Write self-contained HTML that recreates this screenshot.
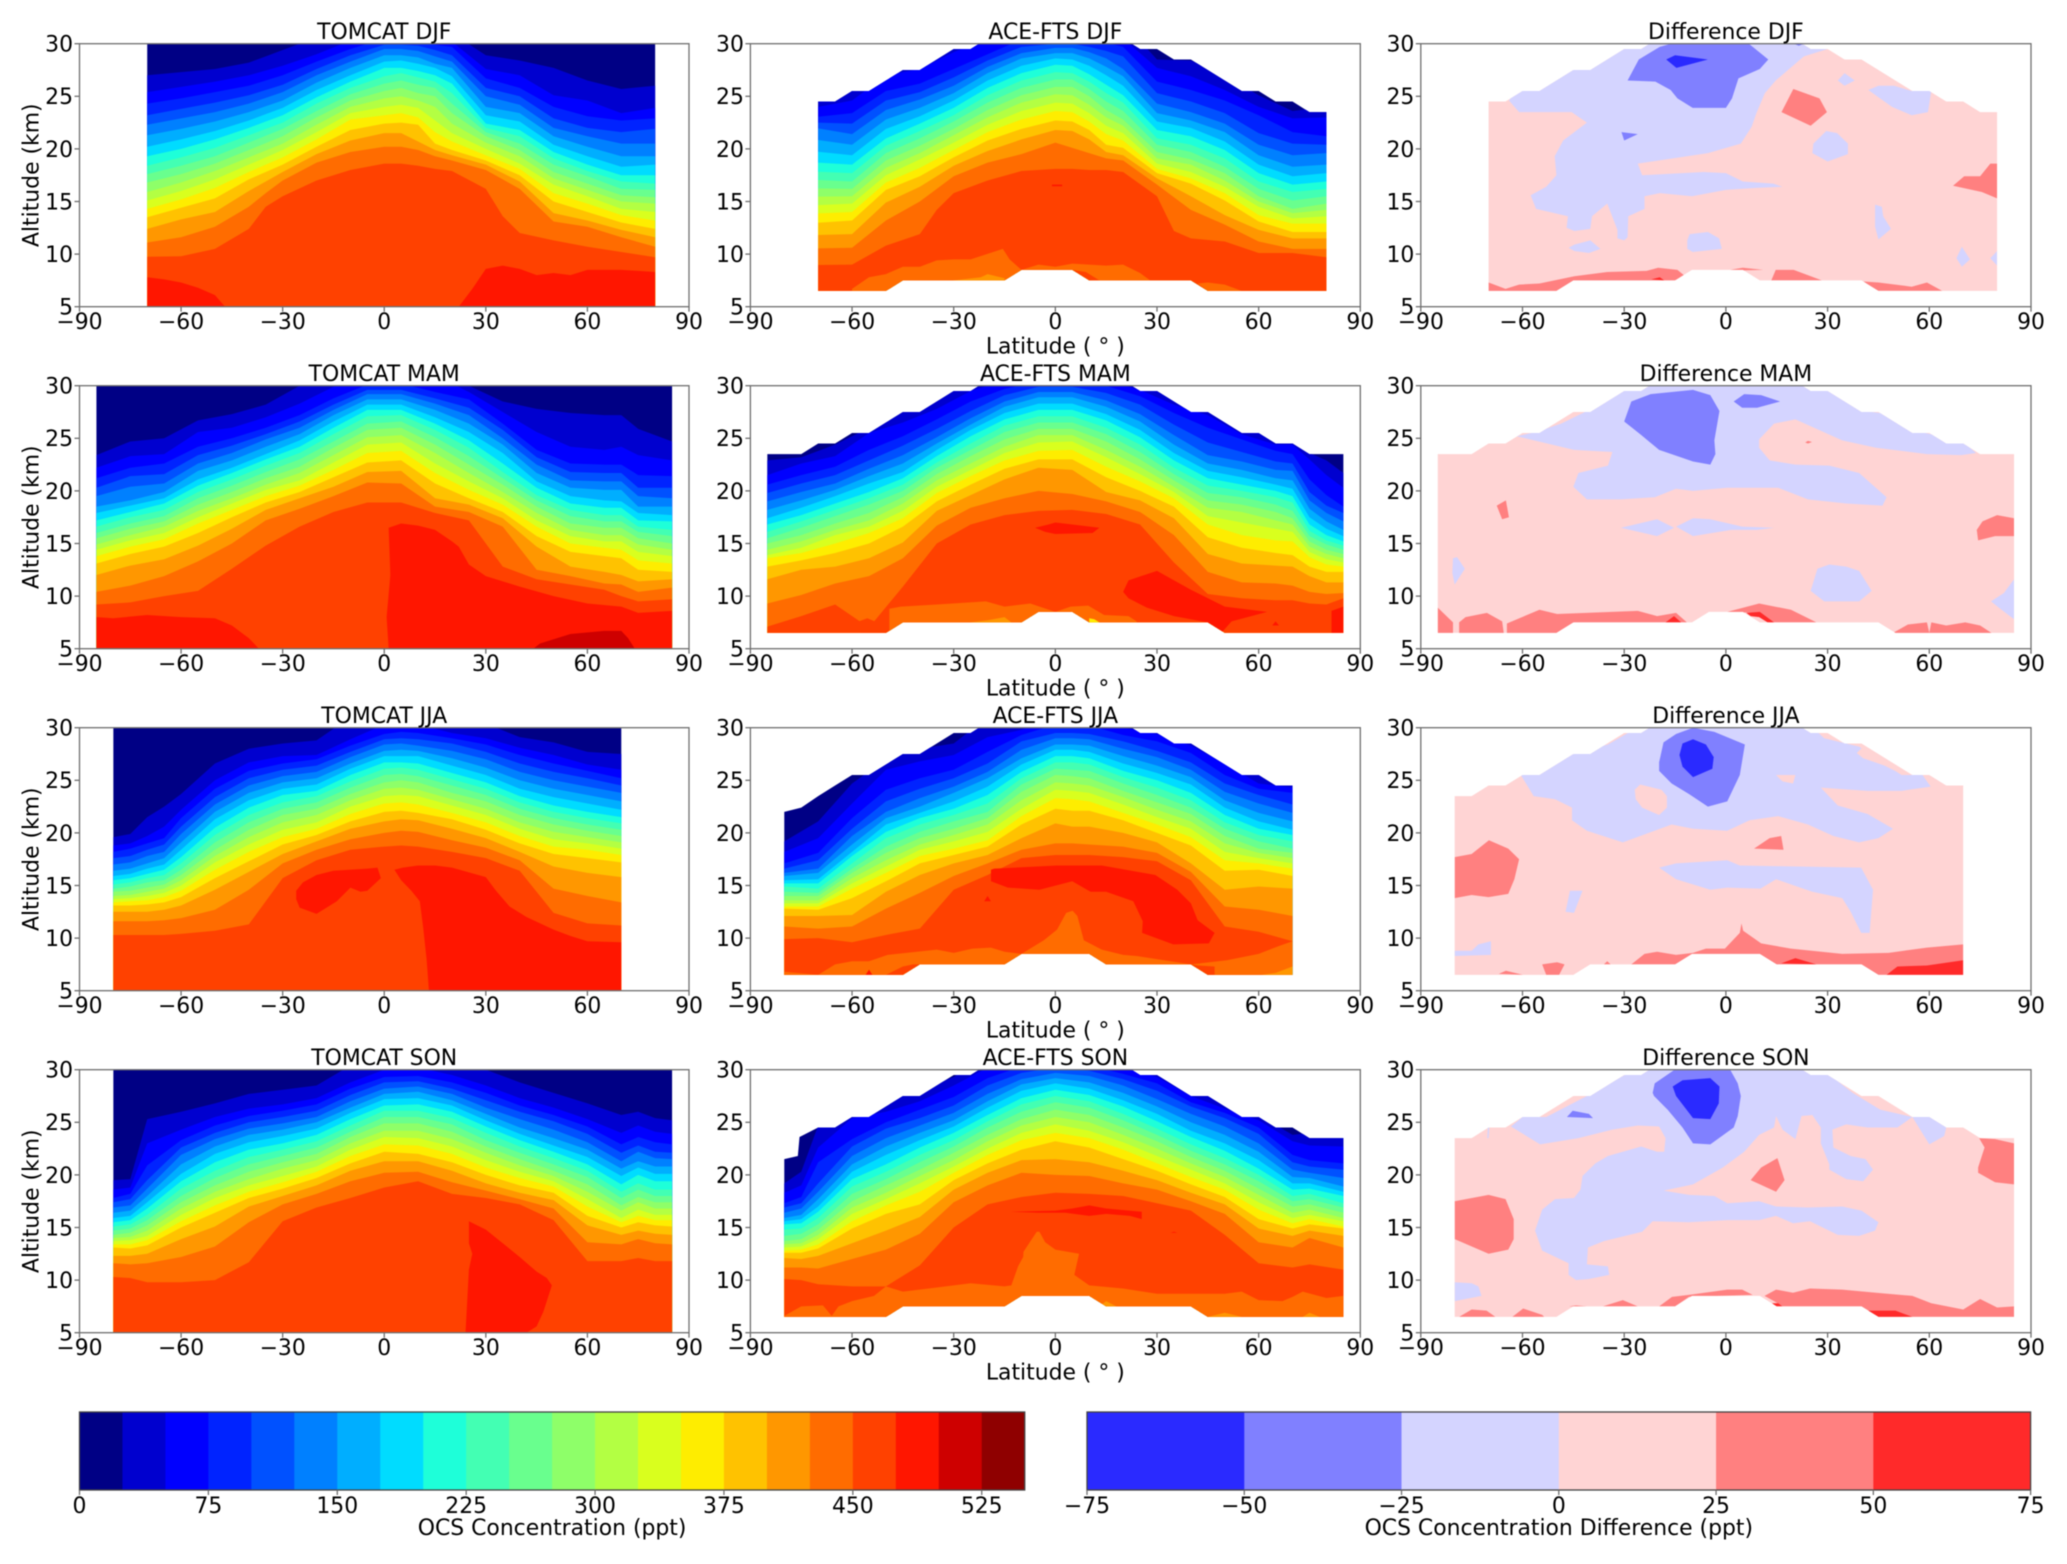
<!DOCTYPE html>
<html lang="en"><head><meta charset="utf-8"><title>OCS concentration: TOMCAT vs ACE-FTS</title>
<style>html,body{margin:0;padding:0;background:#fff}svg{display:block;filter:blur(0.4px)}text{font-family:"DejaVu Sans","Liberation Sans",sans-serif;font-size:21.9px;fill:#000}</style>
</head><body>
<svg id="figure" xmlns="http://www.w3.org/2000/svg" width="2067" height="1564" viewBox="0 0 2067 1564"></svg>
<script>
const concPalette=['#000085','#0000cf','#0000ff','#0023ff','#0051ff','#0080ff','#00aeff','#00dcff','#1effd9','#43ffb3','#69ff8e','#8eff69','#b3ff43','#d9ff1e','#feed00','#ffc200','#ff9700','#ff6c00','#ff4100','#ff1600','#ce0000','#8f0000'];
const diffPalette=['#2a2aff','#8080ff','#d4d4ff','#ffd4d4','#ff8080','#ff2a2a'];
const latTicks=[-90,-60,-30,0,30,60,90];
const altTicks=[5,10,15,20,25,30];
const concTicks=[0,75,150,225,300,375,450,525];
const diffTicks=[-75,-50,-25,0,25,50,75];
const concBounds=[0,25,50,75,100,125,150,175,200,225,250,275,300,325,350,375,400,425,450,475,500,525,550];
const diffBounds=[-75,-50,-25,0,25,50,75];

const djfEnvLat=[-70,-65,-60,-55,-50,-45,-40,-35,-30,-25,-20,-15,-10,-5,0,5,10,15,20,25,30,35,40,45,50,55,60,65,70,75,80];
const djfEnvTop=[24.5,24.5,25.5,25.5,26.5,27.5,27.5,28.5,29.5,29.5,30.5,30.5,30.5,30.5,30.5,30.5,30.5,30.5,30.5,29.5,29.5,28.5,28.5,27.5,26.5,25.5,25.5,24.5,24.5,23.5,23.5];
const djfEnvBot=[6.5,6.5,6.5,6.5,6.5,7.5,7.5,7.5,7.5,7.5,7.5,7.5,8.5,8.5,8.5,8.5,7.5,7.5,7.5,7.5,7.5,7.5,7.5,6.5,6.5,6.5,6.5,6.5,6.5,6.5,6.5];
const mamEnvLat=[-85,-80,-75,-70,-65,-60,-55,-50,-45,-40,-35,-30,-25,-20,-15,-10,-5,0,5,10,15,20,25,30,35,40,45,50,55,60,65,70,75,80,85];
const mamEnvTop=[23.5,23.5,23.5,24.5,24.5,25.5,25.5,26.5,27.5,27.5,28.5,29.5,29.5,30.5,30.5,30.5,30.5,30.5,30.5,30.5,30.5,30.5,29.5,29.5,28.5,27.5,27.5,26.5,25.5,25.5,24.5,24.5,23.5,23.5,23.5];
const mamEnvBot=[6.5,6.5,6.5,6.5,6.5,6.5,6.5,6.5,7.5,7.5,7.5,7.5,7.5,7.5,7.5,7.5,8.5,8.5,8.5,7.5,7.5,7.5,7.5,7.5,7.5,7.5,7.5,6.5,6.5,6.5,6.5,6.5,6.5,6.5,6.5];
const jjaEnvLat=[-80,-75,-70,-65,-60,-55,-50,-45,-40,-35,-30,-25,-20,-15,-10,-5,0,5,10,15,20,25,30,35,40,45,50,55,60,65,70];
const jjaEnvTop=[22,22.4,23.5,24.5,25.5,25.5,26.5,27.5,27.5,28.5,29.5,29.5,30.5,30.5,30.5,30.5,30.5,30.5,30.5,30.5,30.5,29.5,29.5,28.5,28.5,27.5,26.5,25.5,25.5,24.5,24.5];
const jjaDiffEnvTop=[23.5,23.5,24.5,24.5,25.5,25.5,26.5,27.5,27.5,28.5,29.5,29.5,30.5,30.5,30.5,30.5,30.5,30.5,30.5,30.5,30.5,29.5,29.5,28.5,28.5,27.5,26.5,25.5,25.5,24.5,24.5];
const jjaEnvBot=[6.5,6.5,6.5,6.5,6.5,6.5,6.5,6.5,7.5,7.5,7.5,7.5,7.5,7.5,8.5,8.5,8.5,8.5,8.5,7.5,7.5,7.5,7.5,7.5,7.5,6.5,6.5,6.5,6.5,6.5,6.5];
const sonEnvLat=[-80,-76,-75.5,-70,-65,-60,-55,-50,-45,-40,-35,-30,-25,-20,-15,-10,-5,0,5,10,15,20,25,30,35,40,45,50,55,60,65,70,75,80,85];
const sonEnvTop=[21.5,21.8,23.6,24.5,24.5,25.5,25.5,26.5,27.5,27.5,28.5,29.5,29.5,30.5,30.5,30.5,30.5,30.5,30.5,30.5,30.5,30.5,29.5,29.5,28.5,27.5,27.5,26.5,25.5,25.5,24.5,24.5,23.5,23.5,23.5];
const sonEnvBot=[6.5,6.5,6.5,6.5,6.5,6.5,6.5,6.5,7.5,7.5,7.5,7.5,7.5,7.5,7.5,8.5,8.5,8.5,8.5,8.5,7.5,7.5,7.5,7.5,7.5,7.5,6.5,6.5,6.5,6.5,6.5,6.5,6.5,6.5,6.5];
const sonDiffEnvLat=[-80,-75,-70,-65,-60,-55,-50,-45,-40,-35,-30,-25,-20,-15,-10,-5,0,5,10,15,20,25,30,35,40,45,50,55,60,65,70,75,80,85];
const sonDiffEnvTop=[23.5,23.5,24.5,24.5,25.5,25.5,26.5,27.5,27.5,28.5,29.5,29.5,30.5,30.5,30.5,30.5,30.5,30.5,30.5,30.5,30.5,29.5,29.5,28.5,27.5,27.5,26.5,25.5,25.5,24.5,24.5,23.5,23.5,23.5];
const sonDiffEnvBot=[6.5,6.5,6.5,6.5,6.5,6.5,6.5,7.5,7.5,7.5,7.5,7.5,7.5,7.5,8.5,8.5,8.5,8.5,8.5,7.5,7.5,7.5,7.5,7.5,7.5,6.5,6.5,6.5,6.5,6.5,6.5,6.5,6.5,6.5];

// Each profile row: altitude (km) of the 25,50,...,450 ppt contours at that latitude
const tomcatDjfLat=[-70,-60,-50,-40,-35,-30,-20,-10,0,5,10,15,20,30,35,40,50,60,70,80];
const tomcatDjfProfiles=[
[27,25.4,24.3,23.2,22.3,21.3,20.2,19.3,18.4,17.6,16.8,15.9,15.1,14.3,13.5,12.4,11.1,9.75],
[27.3,25.9,24.8,23.8,22.9,21.9,20.9,20,19.2,18.4,17.6,16.8,16,15.2,14.4,13.3,11.6,9.8],
[27.6,26.4,25.4,24.4,23.5,22.6,21.7,20.9,20.1,19.3,18.6,17.9,17.1,16.3,15.3,14,12.6,10.5],
[28.2,27,26,25.1,24.3,23.5,22.7,22,21.3,20.6,19.9,19.2,18.5,17.8,17.1,16,14.5,12.4],
[28.8,27.45,26.5,25.6,24.85,24.05,23.3,22.6,21.9,21.25,20.55,19.85,19.2,18.5,17.8,16.9,15.8,14.5],
[29.4,27.9,27,26.1,25.4,24.6,23.9,23.2,22.5,21.9,21.2,20.5,19.9,19.2,18.5,17.8,17,15.5],
[30.6,29,28.3,27.6,27,26.3,25.6,24.9,24.3,23.6,23,22.3,21.6,20.9,20.2,19.5,18.7,17],
[31.2,30.3,29.5,28.9,28.3,27.7,27,26.4,25.8,25.2,24.6,24,23.4,22.8,21.8,20.8,19.7,18],
[32,31,30.5,29.9,29.5,28.9,28.3,27.7,26.9,26.2,25.5,24.8,24,23.2,22.4,21.5,20.2,18.6],
[32,31,30.4,29.9,29.5,28.9,28.4,27.7,27.2,26.5,25.8,25,24.2,23.4,22.5,21.5,20.2,18.6],
[32,31,30.2,29.8,29.3,28.7,28.1,27.4,26.8,26.1,25.3,24.6,23.9,23,22.3,20.7,19.9,18.4],
[32,30.8,29.9,29.4,28.8,28.1,27.7,27,26.4,25.8,25,24,22.7,21.6,20.5,19.9,19.3,18.1],
[31,30.2,29.7,28.9,28.3,27.7,26.9,26.2,25.3,24.3,23.4,22.4,21.5,20.7,19.9,19.4,18.9,17.9],
[28.9,27.6,26.7,25.8,25,24,23.2,22.4,22,21.6,21.2,20.6,20,19.4,18.9,18.5,18,16.2],
[28.65,27.3,26.25,25.4,24.6,23.7,22.9,22.1,21.6,21.05,20.55,19.95,19.3,18.75,18.2,17.7,17.1,13.6],
[28.4,27,25.8,25,24.2,23.4,22.6,21.8,21.2,20.5,19.9,19.3,18.6,18.1,17.5,16.9,16.2,12],
[27.7,25.1,24,22.9,22,21.2,20.4,19.7,19.1,18.5,17.8,17.2,16.6,15.8,15,13.9,13.1,11.3],
[26.5,24.6,23.1,22,21.2,20.2,19.3,18.5,17.9,17.4,16.7,16.1,15.5,14.8,14,13.2,12.6,10.7],
[25.7,23.4,22.7,21.6,20.5,19.3,18.3,17.5,16.9,16.2,15.6,15,14.3,13.7,13,12.3,11.6,10.2],
[26,23.9,22.9,21.9,20.5,19.3,18.5,17.5,16.7,16.1,15.4,14.8,14,13.2,12.4,11.6,10.7,9.7]];
const tomcatDjfPatches=[
[475,[-70,-65,-60,-55,-50,-47,-70],[7.8,7.6,7.3,6.8,6.1,5,5]],
[475,[22,26,30,35,40,45,50,55,60,70,75,80,80],[5,6.7,8.6,8.9,8.6,8,8.2,8,8.5,8.5,8.4,8.3,5]]];

const aceDjfLat=[-70,-60,-50,-40,-35,-30,-20,-10,0,5,10,15,20,30,35,40,50,60,70,80];
const aceDjfProfiles=[
[31,24,23.06,22.5,21.95,20.84,19.73,18.69,17.83,17.04,16.25,15.46,14.66,13.87,12.98,11.81,10.54,8.96],
[31,24.6,23.4,22.4,21.4,20.4,19.4,18.5,17.7,16.9,16.2,15.5,14.8,14,13.2,11.9,10.6,9],
[31,27,25.5,24.6,23.7,22.8,21.9,21,20.3,19.6,18.9,18.2,17.5,16.8,16.1,14.9,13.2,10.8],
[31,27.6,26.2,25.4,24.7,23.9,23.1,22.4,21.7,21,20.3,19.6,19,18.2,17.4,16.4,15,11.9],
[31,28.4,26.9,26.1,25.35,24.6,23.85,23.15,22.45,21.8,21.1,20.45,19.8,19.05,18.3,17.4,16.2,14.2],
[31,29.2,27.6,26.8,26,25.3,24.6,23.9,23.2,22.6,21.9,21.3,20.6,19.9,19.2,18.4,17.4,15.8],
[33,30.5,29,28.4,27.8,27.2,26.5,25.8,25.1,24.4,23.7,23,22.3,21.6,20.8,19.8,18.7,17],
[33,31.5,30.4,29.7,29.1,28.6,27.9,27.2,26.5,25.8,25.1,24.4,23.6,22.8,21.9,20.9,19.5,17.9],
[34,32,30.5,30,29.6,29.1,28.6,28,27.3,26.6,25.9,25.2,24.4,23.6,22.7,21.8,20.6,18.1],
[34,32,30.5,30,29.6,29.1,28.5,27.9,27.2,26.6,25.9,25.1,24.3,23.5,22.6,21.7,20.1,18.1],
[33,31.5,30.2,29.7,29.2,28.6,27.9,27.1,26.4,25.7,25,24.2,23.4,22.6,21.8,20.9,19.6,18],
[33,31,30.1,29.3,28.6,27.8,27,26.1,25.3,24.5,23.7,23,22.2,21.4,20.4,19.7,19.1,18],
[32,30.5,29.7,28.8,27.6,26.9,26,25.1,24.4,23.6,22.8,22.2,21.5,20.8,20.1,19.4,18.9,17.8],
[28.5,27.7,26.4,25.3,24.3,23.4,22.6,21.8,21,20.4,19.7,19.1,18.6,18.1,17.7,17.2,16.6,15.5],
[28.45,27.3,26,24.9,23.9,23.05,22.3,21.5,20.7,20.05,19.35,18.8,18.2,17.65,17.2,16.35,15.4,12.2],
[28.4,26.9,25.6,24.5,23.5,22.7,22,21.2,20.4,19.7,19,18.5,17.8,17.2,16.7,15.5,14.2,11.5],
[27,25.6,24.6,23.4,22.4,21.6,20.7,19.9,19.1,18.3,17.7,17,16.4,15.8,15.1,13.7,12.8,11.2],
[25.1,24,23.2,21.5,20.4,19.4,18.5,17.7,16.9,16.2,15.5,15,14.5,13.7,13.1,12.3,11.2,10.1],
[23.6,22.9,21.6,20.5,19.4,18.3,17.4,16.6,15.9,15.1,14.3,13.9,13.4,12.9,12.1,11.5,10.5,10.1],
[24,23,21.2,20.4,19.6,18.5,17.7,16.9,16.2,15.5,14.8,14.2,13.6,12.9,12.1,11.5,10.5,9.7]];
const aceDjfPatches=[
[475,[-1,2,2,-1],[16.45,16.45,16.6,16.6]],
[425,[-60,-55,-50,-45,-40,-35,-30,-25,-15.5,-13.5,-10,-10,-60],[6.7,7.8,8.1,8.8,8.8,9.4,9.5,9.5,10.5,9.5,8.5,6,6]],
[400,[-30,-22,-20,-15,-15,-30],[7.5,7.8,8.1,7.7,7.4,7.4]],
[425,[-10,-5,0,5,10,15,20,25,28,13,9,5],[8.5,9,8.8,9.1,9,8.9,9,8.2,7.5,7.5,8.3,8.5]],
[425,[42,45,50,55,45],[7.2,7.3,7.1,6.5,6.5]]];

const tomcatMamLat=[-85,-75,-65,-55,-45,-35,-25,-15,-5,5,15,25,35,45,55,65,70,75,85];
const tomcatMamProfiles=[
[23.4,22.2,21.2,20.3,19.5,18.5,17.9,17.2,16.6,16,15.5,14.9,14.4,13.8,13.1,12,10.4,9.2],
[24.7,23.3,22.2,21.4,20.4,19.1,18.6,18,17.5,16.9,16.4,15.8,15.3,14.7,14,12.9,11,9.4],
[25,23.5,22.6,21.6,20.7,19.9,19.3,18.8,18.2,17.6,17.1,16.6,16,15.4,14.7,13.5,11.9,10],
[26.7,25.6,24.2,23.4,22.6,21.9,21.1,20.5,19.9,19.3,18.7,18.1,17.5,16.9,16,14.8,13.3,10.5],
[27.3,26,25,24.3,23.6,22.9,22.2,21.7,21.1,20.5,19.9,19.3,18.8,18.2,17.5,16.4,15,12.6],
[28.2,27,26,25.4,24.9,24.2,23.5,23,22.4,21.8,21.2,20.6,20.1,19.5,18.9,18.2,17.2,14.8],
[30,28.3,27.2,26.6,26,25.4,24.8,24.2,23.6,23,22.3,21.7,21,20.5,19.9,19.3,18.3,16.6],
[31,29.9,28.8,28.2,27.7,27.2,26.6,26,25.4,24.7,24.1,23.4,22.7,22,21.3,20.4,19.5,18],
[33,31,30.1,29.6,29.2,28.7,28.2,27.7,27.1,26.4,25.8,25.1,24.4,23.6,22.7,21.8,20.8,18.9],
[33,31,30.2,29.6,29.2,28.7,28.2,27.7,27.2,26.6,26,25.3,24.6,23.8,22.9,21.9,20.7,18.9],
[32,31,29.4,28.8,28.3,27.7,27,26.4,25.8,25.1,24.4,23.6,22.6,21.7,20.7,19.3,18.5,17.9],
[30,29.4,28.7,27.9,27.2,26.4,25.6,24.8,24.1,23.3,22.5,21.7,20.9,20.1,19.3,18.7,18,17.2],
[28.5,27.5,26.4,25.8,25,24.4,23.6,22.6,21.8,21.2,20.6,19.9,19.3,18.7,18,17.4,16.6,12.8],
[27.8,25.6,23.9,23.2,22.5,21.7,20.9,20.3,19.6,19.1,18.5,17.9,17.2,16.6,15.7,14.7,12.5,11.6],
[27.4,24.2,22.6,21.8,21,20.3,19.5,18.8,18.2,17.6,16.9,16.3,15.7,15,14.2,12.8,11.9,11.1],
[27.2,23.9,22.5,21.7,20.9,20.1,19.1,18.4,17.7,17.1,16.5,15.8,15.2,14.6,13.8,12.3,11.2,10.6],
[27.2,24.2,22.5,21.7,20.9,20.1,19,18.4,17.7,17.1,16.5,15.8,15.2,14.4,13.6,12,11.1,10],
[25.9,23.4,21.5,20.3,19.5,18.5,17.9,17.2,16.6,16.1,15.5,14.9,14.2,13.4,12.5,11.4,10.4,9.5],
[24.7,22.9,21.4,20.3,19.3,18.5,17.7,17.1,16.3,15.7,15,14.4,13.8,13.1,12.3,11.6,10.8,9.7]];
const tomcatMamPatches=[
[475,[-85,-80,-70,-60,-50,-45,-40,-37,-85],[8,7.9,8.2,8,7.9,7.2,6,5,5]],
[475,[1.3,0.7,1.8,1.3,5,10,15,20,22,25,30,40,50,60,70,75,85,85],[5,8,12,16.5,16.9,16.7,16.3,15.2,14.7,13,11.9,10.9,10,9.3,9,8.4,8.6,5]],
[500,[44,46,55,65,70,72,74],[5,5.5,6.4,6.7,6.7,6,5]]];

const aceMamLat=[-85,-75,-65,-55,-45,-35,-25,-15,-5,5,15,25,35,45,55,65,70,75,80,85];
const aceMamProfiles=[
[22.9,21.5,20.6,19.8,19,18.2,17.4,16.8,16.1,15.5,15,14.4,13.9,13.6,12.8,11.6,9.3,7.1],
[23.2,22.6,21.5,20.7,19.9,19.1,18.4,17.7,17.1,16.5,15.8,15.2,14.6,14.1,13.4,12.5,10.1,8.1],
[24.4,23.3,22.3,21.5,20.7,20.1,19.5,18.8,18.2,17.6,16.9,16.3,15.8,15,14.1,12.8,11.2,9.2],
[26,25.5,23.9,22.9,22.1,21.4,20.7,19.9,19.3,18.7,17.9,17.2,16.6,16,15,13.6,11.9,7],
[27.6,26.5,25.2,24.3,23.4,22.6,21.8,21.2,20.6,20,19.4,18.8,18.1,17.4,16.6,15.1,13.6,10.9],
[29,27.8,26.8,25.9,25.1,24.5,23.9,23.3,22.7,22.2,21.6,21,20.4,19.8,19,18.1,16.7,15],
[30.5,29.5,28.5,27.6,26.9,26.3,25.8,25.2,24.5,23.9,23.3,22.6,22,21.4,20.6,19.6,18.4,16.8],
[32,30.5,29.7,29.1,28.5,28,27.4,26.8,26.2,25.6,24.9,24.2,23.6,22.9,22.1,21.1,19.3,17.7],
[33,31,30.4,29.9,29.4,28.9,28.3,27.7,27.1,26.5,25.9,25.3,24.6,23.8,23,22.2,20,18.1],
[33,31,30.4,29.9,29.4,28.9,28.3,27.7,27.1,26.5,25.9,25.3,24.7,23.9,23,22,19.7,18.2],
[32,30.5,30,29.3,28.6,28,27.3,26.7,26,25.4,24.7,23.9,23.2,22.3,21.3,19.9,19,17.8],
[31,29.6,29,28.2,27.3,26.6,25.8,25.1,24.4,23.7,23,22.3,21.6,20.9,20,19.1,18,16.8],
[30,28.2,27.4,26.3,25.3,24.4,23.6,22.9,22.2,21.6,21,20.4,19.9,19.3,18.5,17.4,15.8,13.2],
[28.5,27.2,26,24.6,23.4,22.6,21.9,21.2,20.5,19.8,19.1,18.4,17.6,16.8,15.6,14,12.3,10.2],
[26,25.4,24.9,23.7,22.8,22,21.3,20.6,20,19.4,18.7,18,17,15.8,14.6,13.1,11.3,9.8],
[25,24.4,23.8,22.8,22,21.2,20.6,20,19.4,18.7,18,17.2,16.4,15.3,14.1,12.9,11.2,9.6],
[25,24.4,23.5,22.6,21.9,21,20.2,19.5,18.9,18.1,17.4,16.8,16.1,15.2,13.9,12.8,11,9.6],
[23.6,23,21.1,19.9,19.1,18.3,17.5,16.8,16.2,15.7,15.2,14.7,14.2,13.7,12.8,11.9,10.4,9.3],
[22.9,21.5,19.6,18.6,17.9,17.1,16.4,15.8,15.3,14.9,14.4,14,13.5,13,12.3,11.3,10.2,9.2],
[21.7,20.3,18.5,17.9,17.1,16.3,15.7,15.2,14.8,14.4,14,13.6,13.2,12.8,12.3,11.3,10.3,9.8]];
const aceMamPatches=[
[475,[-6,-2,0,5,13,11,0,-3],[16.5,16.8,17,16.8,16.5,16,15.9,16.1]],
[475,[20,21.6,30,40,50,62.5,52,49,45,35,27,21.6],[10.4,11.5,12.4,10.6,9,8.5,7.6,6.5,7.5,8.1,8.9,9.8]],
[475,[81.5,85,85,81.5],[8.6,9,6.5,6.5]],
[425,[-49,-45.6,-35,-20.5,-15,-7.4,0,4.5,9.7,14.4,21.6,24,24,-49],[8.8,9,9.2,9.5,9,9.3,8.5,9,9.1,8.2,8.1,7.6,6,6]],
[450,[-58,-55.5,-49.5,-49.8,-57.4],[7.6,7.9,7.1,6.5,6.5]],
[400,[-25,-20,-15,-13,-13,-25],[7.5,7.7,8,7.5,7.4,7.4]],
[350,[10,11.5,13,13,10],[7.9,7.8,7.5,7.4,7.4]],
[475,[65,66,64],[7.6,7.2,7.2]]];

const tomcatJjaLat=[-80,-75,-70,-65,-60,-50,-40,-30,-20,-10,0,5,10,20,30,40,50,60,70];
const tomcatJjaProfiles=[
[19.6,18.8,18.2,17.6,17,16.4,15.9,15.5,15.1,14.7,14.4,14,13.7,13.4,13.1,12.5,11.6,10.3],
[19.9,19,18.5,17.8,17.2,16.6,16.1,15.7,15.3,14.9,14.5,14.1,13.8,13.5,13.1,12.5,11.6,10.3],
[21.5,19.7,19,18.4,17.8,17.1,16.6,16.1,15.7,15.3,14.8,14.4,14,13.6,13.2,12.5,11.6,10.3],
[22.5,20.6,19.5,18.9,18.2,17.6,17,16.5,16,15.5,15.1,14.7,14.3,13.9,13.4,12.7,11.7,10.3],
[23.7,22.2,21.4,20.6,19.9,19.1,18.4,17.7,17.1,16.5,16,15.5,15,14.5,13.9,13.1,11.9,10.4],
[26.6,25,24.2,23.4,22.7,22,21.3,20.5,19.8,19.1,18.4,17.8,17.2,16.5,15.7,14.6,12.7,10.7],
[28,26.7,25.9,25.2,24.5,23.8,23.1,22.4,21.7,21,20.3,19.6,18.9,18.2,17.3,16.3,14.6,11.3],
[28.5,27.3,26.6,26,25.4,24.8,24.2,23.6,22.9,22.3,21.7,21,20.3,19.6,18.9,18,17.1,15.7],
[28.8,27.4,27,26.4,25.8,25.2,24.6,24,23.5,22.9,22.3,21.7,21,20.4,19.8,19.2,18.4,17.4],
[31,28.9,28.3,27.7,27.2,26.6,26.1,25.5,24.9,24.3,23.7,23.1,22.5,21.8,21.1,20.4,19.4,18.4],
[32,30.3,29.4,28.9,28.4,27.8,27.3,26.7,26.1,25.5,24.8,24.2,23.5,22.8,22,21.1,20,18.7],
[32,30.4,29.6,29,28.5,27.9,27.3,26.7,26.2,25.6,25,24.3,23.6,22.9,22.1,21.3,20.2,18.8],
[32,30.3,29.5,28.9,28.3,27.8,27.3,26.6,26,25.4,24.8,24.1,23.5,22.7,21.9,21.2,20.1,18.7],
[31.2,29.5,29,28.5,27.8,27.1,26.4,25.7,25.1,24.5,23.8,23.2,22.6,21.9,21.3,20.4,19.3,18.2],
[30.4,29,28.4,27.7,27,26.2,25.5,24.8,24.2,23.6,23,22.3,21.7,21,20.3,19.5,18.6,17.6],
[29.1,28.1,27.4,26.6,25.8,25,24.2,23.5,22.9,22.3,21.7,21,20.4,19.7,19,18.2,17.4,16.4],
[28.6,27.4,26.6,25.8,25,24.2,23.4,22.6,22,21.4,20.8,20.1,19.4,18.7,18,16.8,14.7,12.4],
[27.7,26.5,25.9,25.2,24.4,23.6,22.8,22,21.4,20.8,20.2,19.6,19,18.4,17.6,16.2,14,11.4],
[27.5,26,25.2,24.5,23.8,23,22.2,21.5,20.9,20.3,19.7,19.1,18.5,17.9,17.2,15.8,13.4,11.2]];
const tomcatJjaPatches=[
[475,[13.2,12.5,11.5,10.5,8,5,3,5.5,10,15,20,30,33,37,42,50,55,60,70,70],[5,8,11,13.5,14.5,15.5,16.5,16.7,16.9,16.9,16.7,15.8,14.5,13,12,10.8,10.2,9.7,9.6,5]],
[475,[-26,-24,-20,-15,-5,-2,-1,-5,-7,-10,-14,-20,-25,-26],[14.5,15.3,16,16.4,16.6,16.7,15.7,14.5,14.4,14.8,13.5,12.3,12.9,13.7]]];

const aceJjaLat=[-80,-70,-60,-50,-40,-30,-20,-10,0,5,10,20,30,40,50,60,70];
const aceJjaProfiles=[
[19.2,18.2,17.1,16.6,16.2,15.9,15.5,15.2,14.9,14.4,14,13.6,13.3,13,12.8,12.1,11.1,9.9],
[21.1,19.5,18.1,17.4,16.6,16.2,15.6,15.2,14.7,14.3,14,13.6,13.3,13,12.7,12.1,10.9,10],
[24.7,22.8,21.4,20.4,19.7,18.9,18.2,17.8,17.1,16.6,16.2,15.7,15.2,14.7,13.8,12.2,11.1,9.6],
[27,26,24.1,23,22,21.4,20.8,20.1,19.5,18.7,18.1,17.4,16.8,16.2,15.4,14.4,12.8,10.3],
[28,26.8,25.2,24.2,23.3,22.5,21.9,21.4,20.8,20.1,19.5,18.9,18.4,17.8,17.1,16,14.3,10.9],
[28.5,27.4,26,25.2,24.4,23.8,23,22.3,21.7,21.1,20.4,19.8,19.2,18.5,17.9,17.1,15.9,14.6],
[31,29.1,27.7,26.6,25.8,25.2,24.4,23.6,22.8,22,21.4,20.8,20.1,19.3,18.7,17.9,17.1,16],
[33,29.8,29.3,28.7,27.9,27.1,26.5,25.8,25.2,24.6,23.9,23.1,22.3,21.6,20.8,19.5,18.4,17.6],
[34,31,30.3,29.5,29,28.4,27.9,27.3,26.7,26.1,25.5,24.8,24.1,23.3,22.3,20.9,19,17.9],
[34,31,30.2,29.5,29,28.4,27.9,27.3,26.7,26,25.4,24.7,24,23.2,22.1,20.6,19,17.9],
[33,31,30.2,29.4,28.9,28.3,27.7,27.1,26.5,25.9,25.2,24.5,23.8,23,22.1,20.6,18.9,17.9],
[32,30,29.3,28.7,28,27.3,26.6,25.9,25.3,24.7,24,23.4,22.7,21.9,21.2,20,18.7,17.7],
[31,29.4,28.7,27.8,27.2,26.4,25.7,25,24.3,23.6,22.9,22.2,21.5,20.8,20,19.1,18.1,17.3],
[29,28.3,27.6,26.7,26,25.3,24.6,23.8,23.1,22.4,21.8,21.1,20.4,19.6,18.8,17.1,16.3,15.5],
[28,26.6,25.5,24.7,23.9,23.1,22.4,21.7,21,20.4,19.7,19,18.2,17.4,16.4,14.6,13,11.1],
[26,24.7,24.2,23.6,22.8,21.9,21.1,20.4,19.8,19.2,18.5,18.1,17.6,17.1,16.5,14.9,12.7,10.6],
[26,24.3,23.8,22.7,21.9,21.1,20.3,19.8,19.2,18.5,18.1,17.6,17.1,16.6,15.9,14.7,12.1,9.7]];
const aceJjaPatches=[
[475,[-19,-18,0.5,13.7,29.5,36,40,42,47,45.3,34.8,25.6,25.8,23,15,10.4,5,-4.7,-14,-19],[16.5,16.6,16.9,16.9,16,14.6,13.3,11.7,10.5,9.5,9.4,10.5,11.6,13.5,14.4,14.4,15.4,14.6,14.8,15.4]],
[475,[-21,-19,-20],[13.5,13.5,14]],
[425,[-80,-70,-65,-60,-55,-49.5,-35,-30,-24.5,-19,-15,-10,-3.4,0.5,3.2,5.1,6.5,8.4,13.7,20,24,40,50.6,60,66.4,70,70,-80],[6.8,6.5,7.5,7.8,7.8,8.4,8.9,8.6,9,9.1,8.7,8.5,9.8,10.8,12.4,12.6,12.1,9.8,8.9,8.4,8.3,7.5,7.9,8.5,9.3,9.7,5,5]],
[450,[-50,-45,-42,-40,-45],[6.5,7.3,7.5,7.5,6.5]],
[450,[40,45,47,47,42],[7.5,6.5,6.5,7.3,7.4]],
[400,[61,65,70,70,61],[6.5,6.7,7.3,6,6]],
[475,[-56,-55,-54],[6.5,7,6.5]]];

const tomcatSonLat=[-80,-75,-70,-60,-50,-40,-30,-20,-10,0,10,20,30,40,50,60,70,75,80,85];
const tomcatSonProfiles=[
[19.5,18.6,17.8,17.4,16.9,16.4,15.9,15.5,15.1,14.7,14.3,14,13.7,13.4,13.1,12.3,11.6,10.3],
[19.6,18.8,18.2,17.7,17.1,16.6,16.1,15.7,15.3,14.9,14.5,14.1,13.8,13.4,13,12.3,11.5,10.2],
[25.3,23,20.9,19.5,18.7,18,17.4,16.8,16.2,15.7,15.2,14.7,14.2,13.8,13.3,12.5,11.6,9.8],
[26,24.3,23.3,22.6,21.9,21,20.1,19.4,18.7,18,17.4,16.8,16.2,15.6,15,13.9,12.2,9.8],
[26.8,25.5,24.7,24,23.4,22.7,22,21.2,20.4,19.7,19,18.4,17.8,17.1,16.4,15.1,13.2,10],
[27.7,26.3,25.6,25,24.4,23.8,23.1,22.4,21.7,21,20.3,19.6,19,18.4,17.8,17,15.5,11.7],
[28.1,26.7,26.1,25.5,24.9,24.3,23.7,23,22.4,21.8,21.2,20.6,19.9,19.3,18.7,18,17.2,15.6],
[28.5,27.3,26.7,26.1,25.5,25,24.4,23.8,23.2,22.6,22,21.4,20.8,20.3,19.7,19,18.2,16.9],
[30.4,28.8,28.2,27.6,27,26.4,25.9,25.3,24.7,24.1,23.6,23,22.4,21.8,21.1,20.4,19.4,17.8],
[32,30,29.3,28.8,28.2,27.7,27.2,26.6,26.1,25.5,24.9,24.2,23.6,22.9,22.2,21.3,20.2,18.8],
[32,30.2,29.4,28.9,28.4,27.9,27.3,26.7,26.1,25.5,24.9,24.2,23.5,22.8,22,21.3,20.3,19.4],
[31,29.5,28.8,28.2,27.7,27.1,26.6,26,25.4,24.8,24.1,23.4,22.7,22,21.2,20.4,19.3,18.2],
[30,28.5,27.8,27.1,26.4,25.8,25.2,24.6,24,23.3,22.7,22.1,21.4,20.7,20,19.2,18.5,17.8],
[28.8,27.3,26.6,26,25.3,24.5,23.9,23.3,22.7,22.1,21.5,20.9,20.3,19.7,19,18.3,17.7,17.2],
[27.8,26.4,25.7,25.1,24.3,23.5,22.8,22.2,21.6,21,20.4,19.9,19.4,18.9,18.3,17.6,16.8,15.7],
[26.8,25.3,24.6,23.9,23.1,22.4,21.7,21,20.4,19.8,19.1,18.4,17.7,17,16.1,15.2,13.6,11.8],
[25.7,24,22.9,22.1,21.3,20.6,19.9,19.1,18.4,17.8,17.1,16.6,15.9,15.5,15,14.3,13.4,11.8],
[26,24.7,23.6,22.8,22.2,21.3,20.7,20,19.2,18.6,17.9,17.4,16.7,16.1,15.5,14.7,13.9,12.1],
[25.4,24.1,23.1,22.2,21.6,20.8,20.1,19.4,18.6,18,17.4,16.8,16.2,15.7,15.2,14.4,13.5,11.8],
[25.2,23.9,22.9,22.1,21.5,20.8,20.1,19.4,18.6,18,17.4,16.8,16.2,15.7,15.1,14.3,13.4,11.8]];
const tomcatSonPatches=[
[475,[24,24.5,25,26,25,25,30,35,40,45,48,49.5,47,45,42],[5,8,11,12.5,13.5,15.6,14.8,13.5,12.2,10.8,10.2,9.5,7,5.6,5]]];

const aceSonLat=[-80,-75,-70,-60,-50,-40,-30,-20,-10,0,10,20,30,40,50,60,70,75,85];
const aceSonProfiles=[
[19.2,18.3,17.3,16.9,16.4,15.9,15.6,15.3,14.8,14.2,13.7,13.4,13.1,12.8,12.6,12.1,11.2,10.1],
[20.3,19,17.9,17.3,16.8,16.2,15.8,15.4,14.9,14.4,13.9,13.5,13.2,12.9,12.6,12,11.2,10],
[24.7,22.6,21.2,19.2,18.4,17.7,17,16.5,15.9,15.3,14.8,14.3,13.9,13.4,13,12.3,11.1,9.6],
[26,25.4,23.4,22.7,21.8,21,20.3,19.6,18.9,18.2,17.5,16.9,16.3,15.6,14.9,13.5,12,9.4],
[27,26,25,24.4,23.5,22.7,21.9,21,20.3,19.6,19,18.3,17.7,17.1,16.3,14.7,12.9,9.4],
[28,27,26.2,25.4,24.7,24,23.3,22.6,21.9,21.2,20.5,19.9,19.2,18.4,17.2,16,14.4,11.4],
[29.3,28.5,27.4,26.6,25.9,25.2,24.6,24,23.3,22.7,22.1,21.4,20.8,20.2,19.5,18.6,17.4,15],
[31.5,30.2,29.2,28.5,27.7,27,26.4,25.7,25.1,24.5,23.8,23.2,22.5,21.9,21.1,20.2,19,17.2],
[33,31,30.3,29.7,29.1,28.6,28,27.3,26.7,26,25.3,24.7,24,23.3,22.4,21.4,20.2,17.9],
[34,32,30.7,30.2,29.7,29.2,28.7,28.1,27.5,26.9,26.2,25.5,24.8,24,23.2,21.5,20,18.3],
[33,31.2,30.4,29.9,29.4,28.8,28.2,27.6,27,26.4,25.7,25,24.2,23.5,22.6,21.2,19.9,18.2],
[32,30.3,29.6,29.1,28.5,27.8,27.1,26.5,25.8,25.2,24.5,23.8,23.1,22.4,21.5,20.4,19.2,18],
[31,29.3,28.7,28,27.2,26.5,25.8,25.1,24.4,23.8,23.2,22.5,21.8,21.1,20.4,19.5,18.6,17.3],
[28.5,27.5,26.9,26.5,25.8,25,24.2,23.6,22.9,22.3,21.7,21.1,20.5,19.8,19.1,18.3,17.5,16.6],
[27.7,26.3,25.9,25.4,24.6,23.8,23,22.3,21.6,21,20.4,19.8,19.2,18.6,17.9,17.2,16.3,14.3],
[25.7,25.2,24.5,23.9,23,22.2,21.4,20.6,20,19.4,18.7,18.1,17.4,16.7,15.8,14.9,13.6,11.6],
[23.8,23.2,21.9,21.2,20.5,19.8,19.2,18.6,18,17.5,17,16.4,15.9,15.4,14.9,14.2,13.1,11.2],
[24,22.8,21.4,20.8,20.2,19.7,19.2,18.7,18.2,17.7,17.2,16.7,16.2,15.8,15.3,14.7,14,11.5],
[24,22.7,21.1,20.5,19.7,18.9,18.4,18,17.3,16.9,16.4,15.9,15.6,15.1,14.9,14.2,13.1,11]];
const aceSonPatches=[
[425,[-80,-75,-68.6,-66,-64,-60,-53.5,-50,-45,-35,-25,-15,-13,-11,-9.5,-9.4,-5.5,-4.7,-3,0,7,5.6,10,20,30,40,50,55,60,67,70,73,80,85,85,-80],[6.6,7.5,7.6,6.6,7.5,8,8.5,9.4,8.9,9.3,9.7,9.4,9.5,11.3,12.2,12.7,14.6,14.6,13.6,12.9,12.5,10.5,9.5,9.2,8.7,8.7,8.7,8.9,8.1,8,8.4,8.9,8.3,8.5,5,5]],
[475,[-13,0,5,10,15,25.5,25.5,22,15,10,3,-5],[16.5,16.6,16.8,17.1,16.8,16.5,15.8,16.1,16.3,16.1,16.4,16.4]],
[475,[34,36,35],[14.5,14.5,14.6]],
[400,[13,15,18,15],[7.5,8,7.5,7.4]],
[400,[45,50,55,50],[6.5,6.9,6.5,6.4]],
[400,[73,75,78,74],[6.5,6.9,6.5,6.4]]];

const diffDjfPatches=[
[-25,[-64,-61,-45.5,-41,-48,-50.5,-50,-53,-57.6,-56,-46.6,-47,-44.7,-40,-39.5,-35,-32,-32,-30,-29,-28.8,-24,-24,-19.5,-10,0,9,16.7,14,5,0,-6.6,-24.7,-26,-5.3,4.4,7.6,9,11.5,14.7,23,30,25,20.5,-37.6,-50.5,-63],[24.6,23.5,23.5,22.5,20.8,19.3,17.5,16.4,15.6,14.3,13.6,12.5,12.2,12.4,13.6,14.8,12.3,11.5,11.3,11.6,13.6,14.3,15.5,15.8,15.5,16.1,16.3,16.4,16.7,16.9,17.7,17.8,17.5,18.6,19.6,20.5,22.1,23.4,25.3,26.5,28.8,29.5,29.7,31,31,27.5,25]],
[-50,[-29,-25.7,-19.5,-14,6,12.5,10,3.7,1.8,0,-9.8,-14.3,-16.3,-20.8],[26.5,28.5,29.7,30.2,30.2,28.5,27.6,26.7,24.8,23.9,23.9,24.8,25.6,26.4]],
[-75,[-17.6,-15,-5.3,-14.6],[28.5,28.9,28.5,27.7]],
[-50,[-30.8,-26,-30],[21.6,21.4,20.8]],
[-50,[20,23,21.5],[30,30,29.8]],
[-25,[33,35,38,35],[26.5,27.2,26.5,26]],
[-25,[42,45,49.6,54.8,60.6,59.6,54.8,49],[25.6,26,26,25.5,25.5,23.5,23.2,24]],
[-25,[25.5,25.8,29.6,32.8,36,36,30],[19.6,20.5,21.7,21.5,20.5,19.5,18.8]],
[-25,[44,46,46.4,48.7,45,44],[14.7,14.5,13.6,12.4,11.4,12.6]],
[-25,[68,69.6,72,69.6],[9.6,10.7,9.5,8.8]],
[-25,[78,80,80],[9.6,10.3,8.9]],
[-25,[-46.4,-44.7,-40,-37,-40.4,-44.7],[10.6,10.9,11.3,10.5,10.1,10.3]],
[-25,[-11.4,-10.7,-5.3,-2,-1.2,-9.8,-11.4],[11.3,11.9,12.1,11.5,10.5,10.2,10.5]],
[25,[16.4,19.9,27.6,29.8,25],[23.5,25.7,24.8,23.5,22.2]],
[25,[67,70.3,75,78,80,80,75.5],[16.5,17.4,17.4,18.6,18.6,15.3,15.9]],
[25,[-70,-65,-61,-55,-44.7,-35,-23.4,-20,-14.3,-12.4,-14,-45,-50,-70],[7.3,6.7,7.1,7.2,7.9,8.3,8.4,8.7,8.5,8,7.5,7.4,6.4,6.4]],
[25,[14.7,20,28.3,13.4],[8.5,8.5,7.5,7.5]],
[25,[1.2,5,11,5],[8.5,8.7,8.5,8.45]],
[25,[40.6,44.4,63.8,59.3,54.8,45],[7.4,6.5,6.5,7.3,6.9,7.3]],
[50,[-22,-19.5,-18.2],[7.6,7.8,7.5]]];

const diffMamPatches=[
[-25,[-61.7,-44.8,-33.5,-34.8,-43.5,-45,-41,-31,-21,-14.7,-9.7,0.4,15.4,24.2,35.5,46.2,47.4,39.3,30.5,20.5,12.9,9.8,9.8,14.2,20.5,34.3,44.3,59.3,69.4,73.8,69.4,54.3,45.5,40.5,29,24,-30,-41,-48.6,-56],[25.2,23.9,23.7,22.4,21.7,20.4,19.2,19.2,19.4,20.2,20,20.3,20.3,19.2,18.8,18.6,19.4,21.7,22.4,22.5,22.9,24.1,24.9,26.4,26.8,24.8,24.1,23.5,23.4,23.6,24.8,25.8,27.4,27.6,29.7,30.5,30.5,27.6,26.4,25.6]],
[-50,[-30,-27.9,-22.2,-9.7,-4.6,-1.9,-3.4,-3.1,-4.6,-9.7,-19.7,-25.3],[26.6,28.5,29.2,29.6,29.1,27.6,24.8,23.5,22.5,22.8,23.9,25.4]],
[-50,[2.3,5.4,10.4,16,9.2,4.8],[28.5,29.2,29.1,28.5,27.9,27.9]],
[-25,[-31,-20.3,-15.3,-20.3],[16.5,17.3,16.5,15.7]],
[-25,[-14.7,-9.7,-4.6,4.8,14.2,9.2,1.6,-9.7],[16.6,17.4,17.3,16.6,16.5,16.3,16.3,15.7]],
[-25,[-80.5,-79.3,-77,-80,-80.7],[13.6,13.7,12.6,11.1,12.2]],
[-25,[25,27,30.5,35.5,39.3,43,39.3,29],[10.5,12.6,13,12.8,12.4,10.5,9.5,9.5]],
[-25,[78.2,82,85,85,81.3],[9.5,10.3,11.6,7.8,8.7]],
[25,[-67.6,-64.9,-64,-66],[18.6,19.1,17.5,17.3]],
[25,[74,75.7,80,85,85,79.4,74.4],[16.3,17.1,17.7,17.4,15.7,15.7,15.3]],
[25,[23.4,24.2,25.4,24.2],[24.6,24.75,24.65,24.5]],
[25,[-85,-80.5,-80.5,-85],[8.9,7.5,6.4,6.4]],
[25,[-78.7,-76.8,-70.5,-66,-65.5,-78.7],[7.5,8,8.4,7.6,6.4,6.4]],
[25,[-64.6,-55,-49.8,-26,-20.3,-14.7,-11.5,-44.8,-48.6,-64.6],[7.4,8.7,8.3,8.6,8.1,8.4,7.5,7.5,6.4,6.4]],
[50,[-17.8,-15.3,-13.2],[7.5,8.1,7.5]],
[25,[0.4,9.8,19.2,26.7,13,9.2],[8.5,9.3,8.7,7.5,7.5,8.4]],
[50,[6,10,14.2,12.3,9.8,7.3],[8.4,8.5,7.5,7.5,8,8.1]],
[25,[49.3,53.7,59.3,60,60.6,65,70.6,75,78.8,49.3],[6.5,7.3,7.5,6.5,7.5,7.2,7.5,7.2,6.4,6.4]]];

const diffJjaPatches=[
[-25,[-60.5,-56.7,-50.4,-45.4,-45.4,-41,-30.4,-16,-9.7,0.4,7,15.4,24.2,31.7,39.3,45,49.3,41.8,33,28,41.8,51.8,60.4,58,51.8,39.3,29,24,-23.5,-34.8,-46,-56],[25.5,23.5,23.2,22.4,21.2,20.2,19.1,20.8,20.4,20.2,21.2,21.6,20.8,19.7,19.1,19.5,20.4,21.8,22.6,24.3,24,24,24.4,25.5,25.5,28.2,29,30.5,30.5,28.4,27.4,25.5]],
[0,[-26.9,-25.3,-19,-17.4,-17.4,-19.7,-24.7,-26.6],[24.1,24.6,24.1,23.5,22.4,21.7,22.4,23.2]],
[0,[14.8,20.5,19.8,16.7],[25.5,25.5,24.7,24.9]],
[0,[38.6,40.5,51.8,46.8,40.5],[27.6,28.2,25.6,26.4,27.1]],
[-50,[-19.7,-18.4,-14.7,-9.7,-3.4,5.6,4.1,0.4,-5.3,-10.9,-16,-19.7],[26.7,28.6,29.4,30,29.6,28.4,25.5,23,22.5,23.7,24.7,25.9]],
[-75,[-13.7,-12.8,-9.7,-5.9,-3.6,-4,-9.7,-12.8],[27.4,28.5,28.9,28.4,27.2,26.1,25.3,26.3]],
[-25,[-19.7,-14.7,0.4,4.1,39.9,43.4,42.4,39.9,36.8,34.3,25.5,14.8,10.2,0.4,-4.6,-14.7],[16.7,17.1,17.4,16.9,16.7,14.6,10.5,10.5,12.5,13.8,14.4,15.6,14.7,14.8,14.6,15.6]],
[-25,[-46,-42.3,-44.8,-47.3],[14.5,14.5,12.4,12.5]],
[-25,[-80,-75,-73,-69.3,-69.3,-80],[8.8,8.8,9.4,9.7,8.4,8.3]],
[25,[-80,-75,-69.9,-64.2,-61,-62.4,-64.2,-70,-75,-80],[17.7,18,19.3,18.5,17.5,15.6,14.2,13.9,14.1,13.8]],
[25,[8.3,12.9,16.3,17],[18.5,19.5,19.7,18.4]],
[25,[-27.9,-24,-20.3,-14.7,-9.7,-5.9,-0.3,4.1,4.6,5.1,10.4,19.2,34.3,48,59.3,70,70,45,40,14.8,10.4,-9.7,-14.7],[7.5,8.5,8.7,8.4,8.6,9,9,10.5,11.4,10.7,9.5,9,8.5,8.6,9.1,9.4,6.5,6.5,7.5,7.5,8.4,8.4,7.5]],
[25,[-54.2,-49.8,-47.6,-49.2,-53],[7.5,7.7,7.5,6.5,6.5]],
[25,[-67,-64.9,-59.8],[6.6,6.9,6.5]],
[25,[-36,-35,-34],[7.5,7.8,7.5]],
[50,[16.3,20.5,26.7],[7.6,8.1,7.5]],
[50,[47.4,50.6,59.3,70,70],[6.5,7.3,7.4,7.9,6.5]]];

const diffSonPatches=[
[-25,[-63.4,-54.8,-43.5,-33.5,-26,-19.7,-17.8,-18.2,-20.3,-25,-34.8,-38.5,-42.3,-42.9,-44.8,-50.4,-54.2,-56.3,-54.2,-46.4,-46.4,-44.2,-40.4,-34.4,-34.8,-41,-40.7,-36,-24.7,-21.6,-10.9,0.4,9.8,14.8,19.8,24.8,33,39.3,44,45,40,34.3,24.2,14.8,9.8,0.4,-3.4,-10.9,-18.4,-9.7,-0.9,5.4,9.8,14.2,14.8,16.7,20.5,22.3,25.5,28,28,30.5,30.5,35.5,40.5,43.4,41.2,36.8,31.7,31.4,35.5,41.8,50.6,55,60,64.4,65,60.6,55,45.5,37.4,29,23,-23.5,-30.4,-41,-53,-60],[24.6,22.9,23.5,24.3,24.7,24.6,23.5,22.2,22.2,22.7,21.8,21.1,19.9,18.6,17.8,17.7,16.7,14.7,12.8,11.6,10.5,10,10.1,10.5,11.3,11.5,13.1,13.7,14.6,15.6,15.5,15.7,15.7,16.1,15.4,15.6,14.3,14.2,14.7,15.5,16.6,17,16.9,17,17.5,17.3,18,18.1,18.5,19.1,20.7,22.2,23.8,24.5,25.6,24.3,23.4,25.6,25.7,24.5,23,21,20.5,19.6,19.4,20.5,21.5,21.8,22.6,24.3,24.8,24.5,24.5,25.5,22.9,23.7,24.5,25.5,25.5,26.2,27.8,29.9,30.5,30.5,29.4,27.5,25.5,25.5]],
[-50,[-21.6,-21,-16,-13,0.4,3.5,4.4,3.5,2.3,-4.6,-9.7,-12.8,-17.2,-21.2],[27.8,28.7,29.8,30.5,30.5,28.7,27.5,25.6,24.5,22.9,23,24.5,26.2,27.5]],
[-75,[-15.7,-12.8,-4.6,-1.9,-2.1,-4.6,-9.7,-14.7],[28.4,29,29.2,28.4,26.8,25.3,25.4,27.5]],
[-50,[-46.9,-45.2,-40.4,-39.2],[25.5,26.1,25.8,25.4]],
[-25,[-80,-75,-73,-72.1,-80],[9.8,9.7,9.4,8.5,8]],
[-25,[-70.2,-69.8,-70,-70.4],[24.5,24.5,23.5,23.5]],
[25,[-80,-70,-65,-62.6,-62.6,-64.2,-70,-80],[17.5,18.1,17.7,15.8,13.9,12.9,12.5,13.9]],
[25,[7.3,10.4,15.2,17.3,14.8],[19.5,20.7,21.6,19.5,18.4]],
[25,[74.7,79.4,85,85,79.4,74.4,74.4,76.3],[23.5,23.4,23,19.1,19.3,20.2,20.7,22.6]],
[25,[-78.7,-75,-70.6,-68],[6.5,7.2,7.1,6.5]],
[25,[-63,-59.8,-54.2,-53.6],[6.5,7.3,6.7,6.5]],
[25,[-46.3,-44.2,-41],[7.5,7.6,7.5]],
[25,[-36.3,-30.4,-26],[7.5,8.1,7.5]],
[25,[-19.7,-15.9,-10.9,0.4,4.8,7.9,-10.9,-15],[7.5,8.4,8.6,9.1,9.1,8.6,8.4,7.5]],
[25,[11.4,14.8,19.8,24.8,34.3,44.3,55,60.6,70,75,80,85,85,45,40,16.7,14.2],[8.5,9.1,8.8,9.2,9.1,8.8,8.5,7.8,7.2,8.2,7.4,7.5,6.5,6.5,7.5,7.5,8]],
[50,[41.8,50,55,45],[7.1,7.1,6.5,6.5]],
[50,[13.6,15.4,16.7,14.8],[7.8,7.8,7.5,7.5]]];

const NS='http://www.w3.org/2000/svg';
const svg=document.getElementById('figure');
const colLeft=[79.5,750.4,1420.8];
const colWidth=[609.5,609.9,610.2];
const rowTop=[43.7,385.7,727.7,1069.7];
const rowHeight=263;
const axisColor='#6f6f6f';

function node(parent,tag,attrs,name){
  const el=document.createElementNS(NS,tag);
  for(const k in attrs) el.setAttribute(k,attrs[k]);
  
  
  parent.appendChild(el);
  return el;
}
function label(parent,x,y,anchor,str,name,extra){
  const el=node(parent,'text',Object.assign({x:x,y:y,'text-anchor':anchor},extra||{}),name);
  el.textContent=str;
  return el;
}
function pathFrom(xs,ys,sx,sy){
  return 'M'+xs.map((v,i)=>sx(v).toFixed(2)+','+sy(ys[i]).toFixed(2)).join('L')+'Z';
}
function concColor(level){return concPalette[Math.round(level/25)];}
function diffColor(level){return diffPalette[Math.round((level+75)/25)];}
function fmt(v){return v<0?'\u2212'+Math.abs(v):String(v);}

function drawAxes(g,c,r,title,sx,sy,slug){
  const L=colLeft[c],T=rowTop[r],W=colWidth[c],H=rowHeight;
  node(g,'rect',{x:L,y:T,width:W,height:H,fill:'none',stroke:axisColor,'stroke-width':1.3},slug+'-frame');
  latTicks.forEach(v=>{
    node(g,'line',{x1:sx(v),x2:sx(v),y1:T+H,y2:T+H+5,stroke:axisColor,'stroke-width':1.3},slug+'-x-tick');
    label(g,sx(v),T+H+22.3,'middle',fmt(v),slug+'-x-tick-label');
  });
  altTicks.forEach(v=>{
    node(g,'line',{x1:L-5,x2:L,y1:sy(v),y2:sy(v),stroke:axisColor,'stroke-width':1.3},slug+'-y-tick');
    label(g,L-6.5,sy(v)+7.9,'end',String(v),slug+'-y-tick-label');
  });
  label(g,L+W/2,T-4.6,'middle',title,slug+'-title');
  if(c===1) label(g,L+W/2,T+H+47,'middle','Latitude ( \u00b0 )',slug+'-x-axis-title');
  if(c===0) label(g,0,0,'middle','Altitude (km)',slug+'-y-axis-title',{transform:'translate(38.5 '+(T+H/2)+') rotate(-90)'});
}

function setupPanel(c,r,slug,envLat,envTop,envBot,latMin,latMax){
  const L=colLeft[c],T=rowTop[r],W=colWidth[c],H=rowHeight;
  const sx=v=>L+(v+90)/180*W;
  const sy=v=>T+H-(v-5)/25*H;
  const g=node(svg,'g',{},slug+'-panel');
  const defs=node(g,'defs',{},slug+'-defs');
  const cp=node(defs,'clipPath',{id:'clip-'+slug},slug+'-clip');
  const inner='clip-in-'+slug;
  const cpIn=node(defs,'clipPath',{id:inner},slug+'-plot-clip');
  node(cpIn,'rect',{x:L,y:T,width:W,height:H},slug+'-plot-clip-rect');
  if(envLat){
    const xs=envLat.concat(envLat.slice().reverse());
    const ys=envTop.concat(envBot.slice().reverse());
    node(cp,'path',{d:pathFrom(xs,ys,sx,sy)},slug+'-data-envelope');
  }else{
    node(cp,'rect',{x:sx(latMin),y:T,width:sx(latMax)-sx(latMin),height:H},slug+'-data-extent');
  }
  const outer=node(g,'g',{'clip-path':'url(#'+inner+')'},slug+'-plot-area');
  const field=node(outer,'g',{'clip-path':'url(#clip-'+slug+')'},slug+'-contours');
  return {g,field,sx,sy,L,T,W,H};
}

function drawConcPanel(c,r,title,slug,lat,profiles,patches,env){
  const lmin=lat[0],lmax=lat[lat.length-1];
  const p=setupPanel(c,r,slug,env&&env[0],env&&env[1],env&&env[2],lmin,lmax);
  node(p.field,'rect',{x:p.L,y:p.T,width:p.W,height:p.H,fill:concColor(0)},slug+'-band-0');
  const nLevels=profiles[0].length;
  const xs=lat.concat([lmax+8,lmax+8,lmin-8,lmin-8]);
  for(let k=0;k<nLevels;k++){
    const alts=profiles.map(row=>row[k]);
    const last=alts[alts.length-1],first=alts[0];
    const ys=alts.concat([last,0,0,first]);
    node(p.field,'path',{d:pathFrom(xs,ys,p.sx,p.sy),fill:concPalette[k+1]},slug+'-band-'+((k+1)*25));
  }
  patches.forEach(pt=>{
    node(p.field,'path',{d:pathFrom(pt[1],pt[2],p.sx,p.sy),fill:concColor(pt[0])},slug+'-patch-'+pt[0]);
  });
  drawAxes(p.g,c,r,title,p.sx,p.sy,slug);
}

function drawDiffPanel(c,r,title,slug,patches,env){
  const p=setupPanel(c,r,slug,env[0],env[1],env[2]);
  node(p.field,'rect',{x:p.L,y:p.T,width:p.W,height:p.H,fill:diffColor(0)},slug+'-base-band');
  patches.forEach(pt=>{
    node(p.field,'path',{d:pathFrom(pt[1],pt[2],p.sx,p.sy),fill:diffColor(pt[0])},slug+'-patch-'+(pt[0]<0?'neg'+Math.abs(pt[0]):pt[0]));
  });
  drawAxes(p.g,c,r,title,p.sx,p.sy,slug);
}

const djfEnv=[djfEnvLat,djfEnvTop,djfEnvBot],mamEnv=[mamEnvLat,mamEnvTop,mamEnvBot],jjaEnv=[jjaEnvLat,jjaEnvTop,jjaEnvBot],sonEnv=[sonEnvLat,sonEnvTop,sonEnvBot];
const jjaDiffEnv=[jjaEnvLat,jjaDiffEnvTop,jjaEnvBot],sonDiffEnv=[sonDiffEnvLat,sonDiffEnvTop,sonDiffEnvBot];
drawConcPanel(0,0,'TOMCAT DJF','tomcat-djf',tomcatDjfLat,tomcatDjfProfiles,tomcatDjfPatches,null);
drawConcPanel(1,0,'ACE-FTS DJF','ace-djf',aceDjfLat,aceDjfProfiles,aceDjfPatches,djfEnv);
drawDiffPanel(2,0,'Difference DJF','difference-djf',diffDjfPatches,djfEnv);
drawConcPanel(0,1,'TOMCAT MAM','tomcat-mam',tomcatMamLat,tomcatMamProfiles,tomcatMamPatches,null);
drawConcPanel(1,1,'ACE-FTS MAM','ace-mam',aceMamLat,aceMamProfiles,aceMamPatches,mamEnv);
drawDiffPanel(2,1,'Difference MAM','difference-mam',diffMamPatches,mamEnv);
drawConcPanel(0,2,'TOMCAT JJA','tomcat-jja',tomcatJjaLat,tomcatJjaProfiles,tomcatJjaPatches,null);
drawConcPanel(1,2,'ACE-FTS JJA','ace-jja',aceJjaLat,aceJjaProfiles,aceJjaPatches,jjaEnv);
drawDiffPanel(2,2,'Difference JJA','difference-jja',diffJjaPatches,jjaDiffEnv);
drawConcPanel(0,3,'TOMCAT SON','tomcat-son',tomcatSonLat,tomcatSonProfiles,tomcatSonPatches,null);
drawConcPanel(1,3,'ACE-FTS SON','ace-son',aceSonLat,aceSonProfiles,aceSonPatches,sonEnv);
drawDiffPanel(2,3,'Difference SON','difference-son',diffSonPatches,sonDiffEnv);

function drawColorbar(slug,x0,x1,bounds,palette,ticks,title){
  const y0=1412,y1=1490;
  const sx=v=>x0+(v-bounds[0])/(bounds[bounds.length-1]-bounds[0])*(x1-x0);
  const g=node(svg,'g',{},slug);
  palette.forEach((col,i)=>{
    node(g,'rect',{x:sx(bounds[i]),y:y0,width:sx(bounds[i+1])-sx(bounds[i])+0.4,height:y1-y0,fill:col},slug+'-swatch');
  });
  node(g,'rect',{x:x0,y:y0,width:x1-x0,height:y1-y0,fill:'none',stroke:'#444','stroke-width':1.3},slug+'-outline');
  ticks.forEach(v=>{
    node(g,'line',{x1:sx(v),x2:sx(v),y1:y1,y2:y1+5,stroke:axisColor,'stroke-width':1.3},slug+'-tick');
    label(g,sx(v),y1+23,'middle',fmt(v),slug+'-tick-label');
  });
  label(g,(x0+x1)/2,1535,'middle',title,slug+'-title');
}
drawColorbar('concentration-colorbar',79.5,1024.7,concBounds,concPalette,concTicks,'OCS Concentration (ppt)');
drawColorbar('difference-colorbar',1087,2030.6,diffBounds,diffPalette,diffTicks,'OCS Concentration Difference (ppt)');
</script>
</body></html>
